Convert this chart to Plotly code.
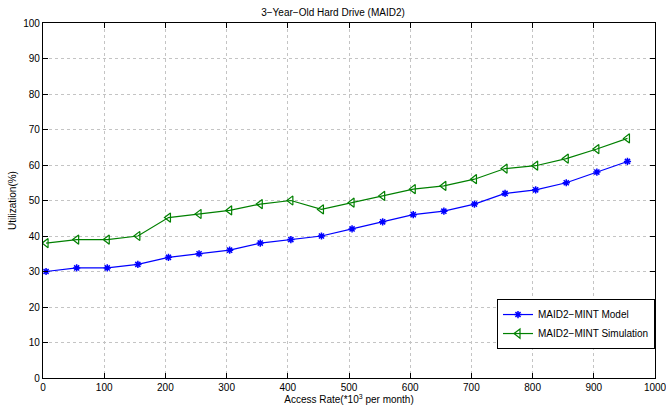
import plotly.graph_objects as go

access_rate = [5, 55, 105, 155, 205, 255, 305, 355, 405, 455, 505, 555, 605, 655, 705, 755, 805, 855, 905, 955]
model_util = [30, 31, 31, 32, 34, 35, 36, 38, 39, 40, 42, 44, 46, 47, 49, 52, 53, 55, 58, 61]
sim_util = [38, 39, 39, 40, 45.2, 46.2, 47.2, 49, 50, 47.5, 49.4, 51.3, 53.2, 54.1, 56, 59, 59.8, 61.8, 64.5, 67.5]
x_ticks = list(range(0, 1001, 100))
y_ticks = list(range(0, 101, 10))

fig = go.Figure()
fig.add_trace(go.Scatter(
    x=access_rate, y=model_util, mode="lines+markers", name="MAID2−MINT Model",
    line=dict(color="#0000ff", width=1.2),
    marker=dict(symbol="asterisk-open", size=6, color="#0000ff", line=dict(color="#0000ff", width=1.5)),
))
fig.add_trace(go.Scatter(
    x=access_rate, y=sim_util, mode="lines+markers", name="MAID2−MINT Simulation",
    line=dict(color="#008000", width=1.2),
    marker=dict(symbol="triangle-left-open", size=8, color="#008000", line=dict(color="#008000", width=1.2)),
))

axis_common = dict(
    showline=True, linecolor="black", linewidth=1.2, mirror="ticks",
    ticks="inside", ticklen=5, tickcolor="black",
    showgrid=True, gridcolor="#c4c4c4", griddash="dot", gridwidth=1,
    zeroline=False, tickfont=dict(size=10, color="black"), automargin=False,
    ticklabeloverflow="allow",
)

fig.update_layout(
    width=666, height=406,
    margin=dict(l=43, r=11, t=23, b=28),
    paper_bgcolor="white", plot_bgcolor="white",
    font=dict(family="Liberation Sans, Arial, sans-serif", size=10, color="black"),
    title=dict(text="3−Year−Old Hard Drive (MAID2)", x=0.5, xanchor="center", y=0.978, yanchor="top",
               font=dict(size=10)),
    xaxis=dict(range=[0, 1000], tickvals=x_ticks,
               title=dict(text="Access Rate(*10<sup>3</sup> per month)", standoff=1, font=dict(size=10)),
               **axis_common),
    yaxis=dict(range=[0, 100], tickvals=y_ticks,
               title=dict(text="Utilization(%)", standoff=4, font=dict(size=10)),
               **axis_common),
    legend=dict(x=1.0, y=0.152, xanchor="right", yanchor="middle",
                bordercolor="black", borderwidth=1, bgcolor="white",
                font=dict(size=10), tracegroupgap=0),
    showlegend=True,
)

fig.write_html("out.html")
